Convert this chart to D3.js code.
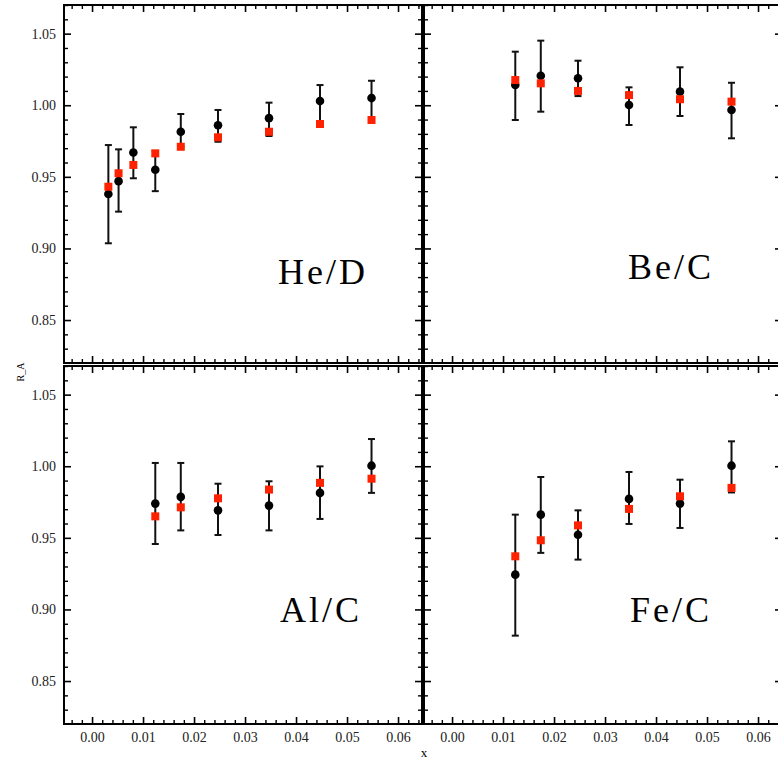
<!DOCTYPE html>
<html>
<head>
<meta charset="utf-8">
<script src="https://cdn.jsdelivr.net/npm/d3@7"></script>
<style>
  body { margin: 0; background: #fff; }
  svg { display: block; }
</style>
</head>
<body>
<svg width="778" height="760"></svg>
<script>
// x positions (Bjorken x) of the points
const xHe = [0.0032, 0.0052, 0.0081, 0.0124, 0.0174, 0.0247, 0.0347, 0.0447, 0.0548];
const xNuc = [0.0124, 0.0174, 0.0247, 0.0347, 0.0447, 0.0548];

// He/D
const heBlack = [0.938, 0.947, 0.967, 0.955, 0.9815, 0.986, 0.991, 1.003, 1.005];
const heLo    = [0.9036, 0.9257, 0.949, 0.940, 0.971, 0.9745, 0.9785, 0.989, 0.991];
const heHi    = [0.9722, 0.9692, 0.9846, 0.968, 0.9939, 0.9967, 1.0018, 1.0141, 1.0171];
const heRed   = [0.9431, 0.9525, 0.9583, 0.9664, 0.971, 0.9776, 0.9815, 0.9869, 0.9897];

// Be/C
const beBlack = [1.0141, 1.0206, 1.0188, 1.0002, 1.0095, 0.9967];
const beLo    = [0.9897, 0.9955, 1.0064, 0.9862, 0.9925, 0.9769];
const beHi    = [1.0374, 1.0451, 1.0311, 1.0125, 1.0265, 1.0157];
const beRed   = [1.0176, 1.0153, 1.010, 1.0071, 1.0042, 1.0025];

// Al/C
const alBlack = [0.9739, 0.9786, 0.9692, 0.9725, 0.9814, 1.0004];
const alLo    = [0.9457, 0.9552, 0.952, 0.9552, 0.9632, 0.9814];
const alHi    = [1.0023, 1.0023, 0.9878, 0.9895, 0.9999, 1.019];
const alRed   = [0.965, 0.9713, 0.9776, 0.9837, 0.9884, 0.9913];

// Fe/C
const feBlack = [0.9243, 0.9662, 0.9522, 0.9772, 0.9739, 1.0004];
const feLo    = [0.8817, 0.9395, 0.9348, 0.9597, 0.9569, 0.9817];
const feHi    = [0.9662, 0.9925, 0.9692, 0.996, 0.9906, 1.0174];
const feRed   = [0.9371, 0.9483, 0.9587, 0.9702, 0.979, 0.9849];

const xMajor = [0.00, 0.01, 0.02, 0.03, 0.04, 0.05, 0.06];
const yMajor = [0.85, 0.90, 0.95, 1.00, 1.05];
const xMinor = d3.range(-2, 33).map(i => i * 0.002).filter(v => Math.round(v * 1000) % 10 !== 0);
const yMinor = d3.range(83, 108).map(i => i / 100).filter(v => Math.round(v * 100) % 5 !== 0);

const panels = [
  { name: "He/D", col: 0, row: 0, x: xHe,  black: heBlack, lo: heLo, hi: heHi, red: heRed, lx: 259, ly: 279 },
  { name: "Be/C", col: 1, row: 0, x: xNuc, black: beBlack, lo: beLo, hi: beHi, red: beRed, lx: 247, ly: 274 },
  { name: "Al/C", col: 0, row: 1, x: xNuc, black: alBlack, lo: alLo, hi: alHi, red: alRed, lx: 257, ly: 256 },
  { name: "Fe/C", col: 1, row: 1, x: xNuc, black: feBlack, lo: feLo, hi: feHi, red: feRed, lx: 247, ly: 256 }
];

const colRange = [[64, 422], [424, 782]];
const rowRange = [[5, 363], [366, 724]];

const svg = d3.select("svg");

panels.forEach(p => {
  const [x0, x1] = colRange[p.col];
  const [y0, y1] = rowRange[p.row];
  const x = d3.scaleLinear().domain([-0.0055, 0.0647]).range([x0, x1]);
  const y = d3.scaleLinear().domain([0.82, 1.07]).range([y1, y0]);

  const g = svg.append("g");

  // axes: ticks all point inward
  const fmt = d3.format(".2f");
  const addAxis = (axis, tr, major, minor, labels) => {
    const a = g.append("g").attr("transform", tr)
      .call(axis.tickValues(major).tickSize(-7).tickPadding(8).tickFormat(labels ? fmt : ""));
    a.select(".domain").remove();
    a.selectAll("line").attr("stroke-width", 1.6);
    a.selectAll("text").attr("font-family", "Liberation Serif, serif").attr("font-size", 14).attr("fill", "#222");
    const m = g.append("g").attr("transform", tr)
      .call(axis.tickValues(minor).tickSize(-4).tickFormat(""));
    m.select(".domain").remove();
    m.selectAll("line").attr("stroke-width", 1.4);
  };
  addAxis(d3.axisBottom(x), `translate(0,${y1})`, xMajor, xMinor, p.row === 1);
  addAxis(d3.axisTop(x), `translate(0,${y0})`, xMajor, xMinor, false);
  addAxis(d3.axisLeft(y), `translate(${x0},0)`, yMajor, yMinor, p.col === 0);
  addAxis(d3.axisRight(y), `translate(${x1},0)`, yMajor, yMinor, false);

  g.append("rect")
    .attr("x", x0).attr("y", y0)
    .attr("width", x1 - x0).attr("height", y1 - y0)
    .attr("fill", "none").attr("stroke", "#000").attr("stroke-width", 2);

  // error bars
  const eb = g.append("g").attr("stroke", "#111").attr("stroke-width", 2);
  p.x.forEach((xv, i) => {
    eb.append("line").attr("x1", x(xv)).attr("x2", x(xv)).attr("y1", y(p.lo[i])).attr("y2", y(p.hi[i]));
    eb.append("line").attr("x1", x(xv) - 3.5).attr("x2", x(xv) + 3.5).attr("y1", y(p.lo[i])).attr("y2", y(p.lo[i]));
    eb.append("line").attr("x1", x(xv) - 3.5).attr("x2", x(xv) + 3.5).attr("y1", y(p.hi[i])).attr("y2", y(p.hi[i]));
  });

  g.selectAll(".dot").data(p.black).enter().append("circle")
    .attr("cx", (d, i) => x(p.x[i])).attr("cy", d => y(d))
    .attr("r", 4.3).attr("fill", "#000");

  g.selectAll(".sq").data(p.red).enter().append("rect")
    .attr("x", (d, i) => x(p.x[i]) - 4).attr("y", d => y(d) - 4)
    .attr("width", 8).attr("height", 8).attr("fill", "#ff2200");

  g.append("text")
    .attr("x", x0 + p.lx).attr("y", y0 + p.ly)
    .attr("text-anchor", "middle")
    .attr("font-family", "Liberation Serif, serif")
    .attr("font-size", 36).attr("letter-spacing", 3)
    .text(p.name);
});

svg.append("text")
  .attr("transform", "translate(24,372) rotate(-90)")
  .attr("text-anchor", "middle")
  .attr("font-family", "Liberation Serif, serif").attr("font-size", 10)
  .text("R_A");

svg.append("text")
  .attr("x", 424).attr("y", 757)
  .attr("text-anchor", "middle")
  .attr("font-family", "Liberation Serif, serif").attr("font-size", 13)
  .text("x");
</script>
</body>
</html>
